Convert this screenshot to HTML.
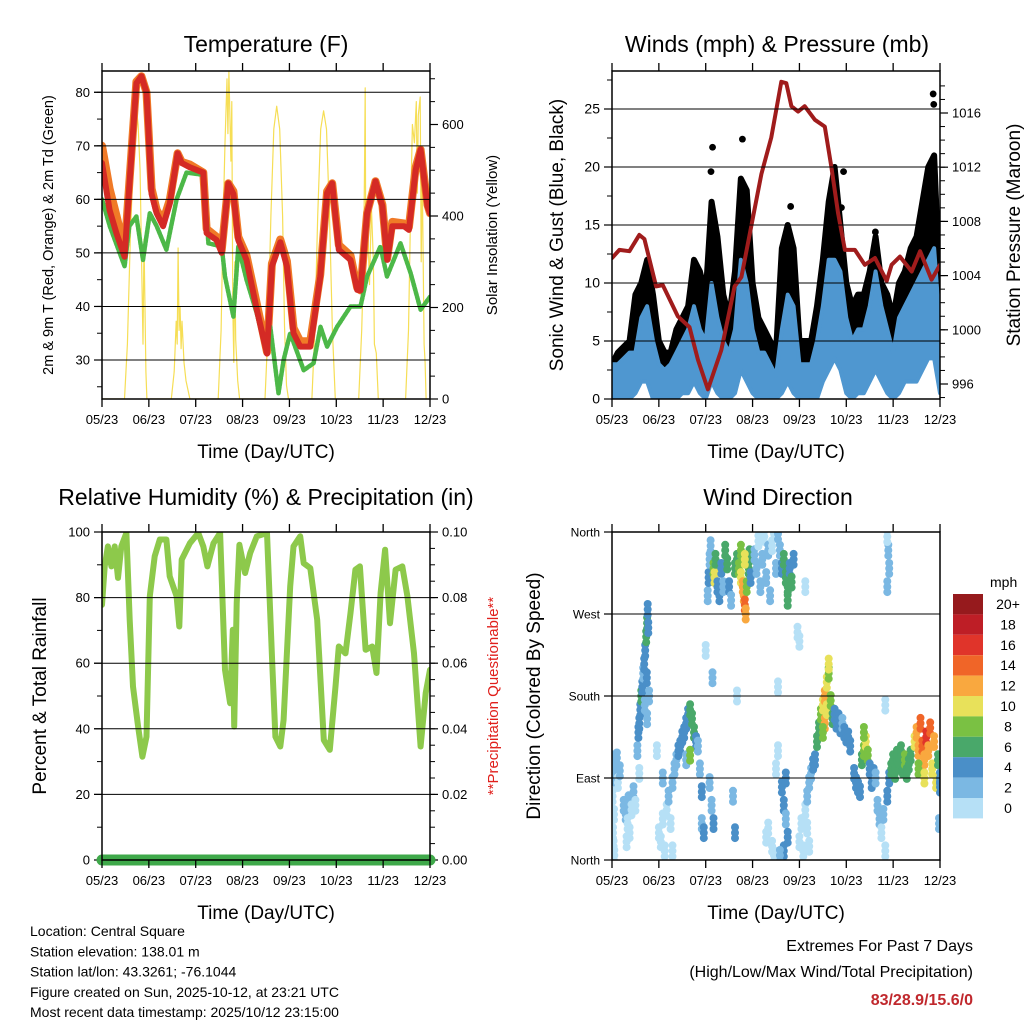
<!DOCTYPE html>
<html><head><meta charset="utf-8">
<style>
body{margin:0;background:#fff;}
svg{display:block;font-family:"Liberation Sans",sans-serif;}
</style></head>
<body>
<svg id="root" width="1024" height="1024" viewBox="0 0 1024 1024"></svg>
<script>
// ---------- DATA ----------
const TEMP_TIMES=[0,3.9,7.4,11.6,14,17.6,20.2,22.8,25.4,28,31.3,34.8,38.7,40.8,45,51.9,53.6,58.7,61.3,64.7,67.3,69.8,74,79.3,84.5,87,91.3,94.7,98.1,101.5,106.7,111.8,115.3,117.9,121.3,127.3,130.7,132.4,135.8,140.1,143.6,146.1,148.7,154.7,157.2,160.7,163.2,166.7,168];
const TEMP_RED=[66.8,58,53.7,49.3,62.4,81.7,83,80,61,57.4,55,59.3,68.6,66.8,66,65,53.7,52.4,50,63,61,52.4,48.7,39.4,31.2,47.5,52,47.5,35,32.5,32.5,45.6,61.2,63,50.6,48.7,43.1,43,57.4,63.4,58.7,48.7,55,55,54.3,65.5,69.3,58.7,57.4];
const TEMP_ORANGE=[70,62,57,50.5,63,82,83,80,62,58,56,60,68.6,67,66.5,65,54.5,53,50.5,63,61.5,53,49.5,40.5,31.5,48,52.5,48.5,36,33.5,33.5,46,61.5,63,51.5,49.5,43.5,43,57.5,63.4,59,49,55.8,55.5,54.8,66,69.3,59,57.4];
const DEW_TIMES=[0,4,11.6,14,17.6,21,24.5,28,33,38.2,43.3,51.9,54.5,61.3,63,67.3,69.8,74,79.3,84.5,86.2,90.4,93,96.4,103.3,108.4,111.9,115.3,120.4,127.3,132.4,135.8,142.6,146,152.9,158.1,163.2,168];
const DEW=[60,55,47.5,55,56.8,48.7,57.4,55,50.6,60,65,64.6,51.8,51.2,45.6,38.1,51.2,45,38.7,31.2,36.2,23.8,30,35,28.1,29.4,36.2,32.5,36.2,40,40,45.6,51.2,45.6,51.8,46.2,39.4,41.8];
const SOLAR_TIMES=[0,11.5,13,14.5,16,17.5,18.5,19.5,20.5,21,21.5,22.5,23,35.5,37,38,38.5,39,39.5,40,40.5,41,42,43,45,59.5,61,62,63,64,64.5,65,65.5,66,66.5,67,67.5,68,68.5,69.5,70.5,83.5,85,86.5,88,89.5,91,92.5,93.5,94.5,95.5,107.5,109,110.5,112,113.5,115,116.5,118,119.5,131.5,133,134,134.5,134.8,135.1,136,137,138,139,139.5,140.5,141.5,155.5,157,158,159,160,161,161.5,162,163,163.5,164,165,165.5,166,168];
const SOLAR=[0,0,120,350,520,640,600,500,250,120,350,60,0,0,60,170,120,330,150,200,110,170,80,40,0,0,150,380,560,700,580,716,620,520,650,200,80,300,130,40,0,0,150,400,590,640,590,400,160,30,0,0,150,400,590,630,590,400,150,0,0,150,300,520,680,300,400,250,420,300,120,100,0,0,150,400,600,560,650,450,620,660,300,500,120,80,0,0];
const PRESS_TIMES=[0,3.8,8.9,14,16.6,22.6,26,33.7,39.7,44,49.1,56,62.8,66.3,76.5,81.6,86.7,89.3,91.9,95.3,98.7,103.9,109,112.4,115.8,119.3,124.4,129.5,134.7,140.7,143.2,147.5,153.5,157.8,163.7,168];
const PRESS=[1005.3,1005.9,1005.8,1007,1006.7,1003.2,1003.3,1001,1000.2,997.8,995.6,998.5,1003.2,1003.9,1011.5,1014.2,1018.3,1018.2,1016.5,1016.1,1016.5,1015.5,1015,1012,1008.6,1005.9,1005.9,1004.8,1005.3,1003.6,1004.8,1005.4,1004.3,1005.8,1003.7,1004.8];
const WIND_TIMES=[0,3,6,9,12,15,18,21,24,27,30,33,36,39,42,45,48,51,54,57,60,63,66,69,72,75,78,81,84,87,90,93,96,99,102,105,108,111,114,117,120,123,126,129,132,135,138,141,144,147,150,153,156,159,162,165,168];
const WIND_LO=[0,0,0,0,0.5,1.5,1.5,0,0,0,0,0,0.5,0.5,1.5,0.5,0,1.5,0.5,0,0,0.5,2.5,1.5,0.5,0,0,0,0,0.5,1.5,0.5,0,0,0,0,1.5,2.5,3.5,2.5,0.5,0,0.5,0.5,1.5,2.5,1.5,0.5,0,0.5,1.5,1.5,1.5,2.5,3.5,3.5,0.5];
const WIND_HI=[3,3,3.5,4,4,7,8,5,3,2.5,3,4,5,6,8,6,5,10,7,5,4,6,12,10,6,4,4,3,2,6,9,8,3,3,3,5,8,12,12,11,7,5,6,6,8,11,8,6,4,7,8,9,10,11,12,13,6];
const GUST_LO=[1,2,2,2,3,5,5,3,1,2,2,3,3,4,5,5,4,6,5,3,2,4,7,7,4,2,2,1,1,4,6,5,1,2,2,3,5,8,10,7,4,4,4,4,5,6,5,4,2,4,6,6,7,8,10,10,4];
const GUST_HI=[3,4,4.5,5,9,10,12,9,5,4,4,6,7,8,12,11,9,17,14,9,7,11,19,18,10,7,6,5,4,13,15,13,5,5,5,8,12,17,20,15,10,8,9,9,11,14,10,9,7,10,11,13,14,17,20,21,9];
const GUST_OUT_T=[51.5,50.7,66.8,91.5,118.6,134.9,164.5,164.8,117.5];
const GUST_OUT_V=[21.7,19.6,22.4,16.6,19.6,14.4,26.3,25.4,16.5];
const RH_TIMES=[0,1.4,3,4.8,6.5,8.2,9.9,12.5,14.2,15.9,18.5,20.7,22.8,24.5,27,29.6,33,34.7,38.2,39.6,40.8,45,49.3,51.9,54,57.1,60.5,63,65.6,67,67.7,69,70.4,73.3,75.9,79.3,84.5,87.1,88.8,91.3,93,96.4,98.1,101.5,103.3,106.7,110.2,113.6,116.7,119.6,121.3,124.7,127.3,129.8,132.1,135,138.4,140.6,142.7,145,147.5,150.4,153.8,156.4,159.8,163.2,165.8,168];
const RH=[77.8,89.5,95.6,89.5,95.6,86,95.6,99.7,73.2,52.9,40.7,31.5,37.6,80.4,92.6,97.7,97.7,86.5,80.4,71.2,91.6,96.6,99.7,95.6,89.5,96.6,99.7,58,47.8,70.2,40.7,78.3,96.1,87.5,93.6,98.7,99.7,61,37.6,34.6,42.7,83.4,95.6,98.7,90.5,89,73.2,36.6,33.6,52.9,65.1,63,75.3,88.5,89.5,64.1,65.1,57,81.4,94.6,72.2,88.5,89.5,80.4,63,34.6,50.9,58];
const PRECIP_TIMES=[0,168];
const PRECIP=[0,0];
const DIR_T=[0,0.5,1,1.5,2,2.5,3,4,0.3,0.5,1,0.8,1.2, 6,7,8,9,7.5,8.5,10,11,12,
13,13.5,14,14.5,15,15.5,16,16.5,17,17.5,18,18.3,18.6,17.8,16.8,19,14,18,
24,25,26,27,28,29,30,31,32,33,34,35,36,23,26,31,
37,38,39,40,41,42,43,44,38,45,40,46,46,47,
49,49.5,50,50.5,50,51,52,51.5,48,
52,52.5,53,54,55,56,57,58,59,60,61,63,62,64,
63,64,65,66,67,67.5,68,68.5,69,70,70.5,71,66,68,
73,74,75,76,77,78,79,80,81,82,83,84,85,79,80,82,83,85,85,84,
86,87,88,89,90,91,92,90,93,87,88,89,90,88,86,89,
96,97,98,99,100,101,102,103,99,96,95,100,101,
104,105,106,107,108,109,110,111,109,108,110,111,112,113,
114,115,116,117,118,119,120,121,122,
124,125,126,127,128,129,130,131,129,132,133,134,135,136,137,138,140,139,
141,142,143,144,145,146,147,148,149,150,151,152,153,142,141.5,141,141,140,
155,156,157,158,159,160,161,162,163,164,165,166,167,168,168,167.5,157,160];
const DIR_V=[110,100,95,105,90,112,85,98,70,30,50,15,5, 60,50,40,30,20,65,55,75,60,
120,140,150,165,180,190,205,215,230,245,260,275,255,200,170,180,95,155,
30,20,45,10,55,70,40,85,100,110,120,125,135,120,90,10,
140,150,160,165,155,140,130,125,110,100,115,75,40,30,
290,310,330,345,85,60,40,200,230,
320,310,330,300,290,320,300,340,325,300,285,30,70,180,
320,330,320,310,300,290,280,270,300,320,335,310,340,330,
335,320,350,300,330,355,310,340,290,345,358,320,358,25,35,15,5,120,190,100,
340,320,330,310,300,320,305,285,330,80,60,45,25,10,5,90,
20,40,10,55,70,85,95,105,300,240,250,35,15,
110,130,145,160,170,180,195,205,150,140,165,215,175,155,
160,150,155,145,150,140,135,135,125,
95,85,80,75,110,120,130,115,140,100,85,95,90,60,45,30,10,50,
70,90,100,110,95,115,105,120,100,110,95,105,115,320,340,300,355,170,
130,140,120,150,125,110,135,120,145,100,130,85,110,90,80,40,100,90];
const DIR_S=[2,2,1,2,2,2,1,2,0,0,0,0,0, 2,2,1,0,0,2,1,2,1,
3,4,4,5,6,4,3,4,5,6,7,4,5,4,3,3,1,3,
0,0,1,0,1,2,1,2,2,3,4,4,4,1,2,0,
4,4,5,6,6,6,4,3,3,3,8,4,3,4,
3,4,3,2,3,3,4,2,0,
8,10,7,4,4,5,3,6,7,4,2,4,3,0,
6,7,9,11,12,13,14,12,8,6,7,5,8,10,
2,2,1,2,2,1,2,2,3,1,1,2,2,0,0,1,0,1,1,1,
3,4,6,6,7,5,6,6,4,4,5,3,4,4,3,4,
0,0,0,1,2,3,3,4,0,1,0,1,0,
5,6,7,8,10,12,11,9,12,8,10,10,8,6,
4,4,5,4,3,4,5,4,4,
4,4,4,5,6,8,10,9,8,5,4,4,3,2,2,1,0,2,
4,5,6,7,6,6,7,7,6,8,6,7,6,3,3,2,0,1,
11,13,12,14,15,13,16,12,14,10,12,10,6,5,4,2,9,11];
const SPEED_LABELS=["20+","18","16","14","12","10","8","6","4","2","0"];
const SPEED_COLORS=["#b6e0f6","#7bb8e3","#4a8fc8","#49a86a","#7ac143","#e8e15a","#f9a83f","#f06528","#e0342a","#be1e26","#961a1d"];
const TEMP_TICKS=[30,40,50,60,70,80];
const SOLAR_TICKS=[0,200,400,600];
const WIND_TICKS=[0,5,10,15,20,25];
const PRESS_TICKS=[996,1000,1004,1008,1012,1016];
const RH_TICKS=[0,20,40,60,80,100];
const PRECIP_TICKS=["0.00","0.02","0.04","0.06","0.08","0.10"];
const DIR_TICKS=["North","East","South","West","North"];
const DAY_LABELS=["05/23","06/23","07/23","08/23","09/23","10/23","11/23","12/23"];

// ---------- HELPERS ----------
const NS="http://www.w3.org/2000/svg";
const root=document.getElementById('root');
function mk(parent,tag,attrs,text){const e=document.createElementNS(NS,tag);for(const k in attrs)e.setAttribute(k,attrs[k]);if(text!==undefined)e.textContent=text;parent.appendChild(e);return e;}
const W=328,H=328;
function lin(d0,d1,r0,r1){return v=>r0+(v-d0)/(d1-d0)*(r1-r0);}
function poly(g,xs,ys,fx,fy,style){return mk(g,'polyline',Object.assign({points:xs.map((t,i)=>fx(t).toFixed(1)+','+fy(ys[i]).toFixed(1)).join(' '),fill:'none','stroke-linejoin':'round','stroke-linecap':'round'},style));}
let clipN=0;
function frame(x0,y0,name){
  const g=mk(root,'g',{});
  
  
  const cid='c'+(clipN++);
  const cp=mk(g,'clipPath',{id:cid});mk(cp,'rect',{x:x0,y:y0,width:W,height:H});
  const data=mk(g,'g',{'clip-path':'url(#'+cid+')'});
  
  
  return {g,data,fx:lin(0,168,x0,x0+W)};
}
function xAxis(g,x0,y0,name){
  const ax=mk(g,'g',{});
  
  
  DAY_LABELS.forEach((l,i)=>{const x=x0+i*W/7;
    mk(ax,'line',{x1:x,x2:x,y1:y0+H,y2:y0+H+8,stroke:'#000','stroke-width':1.3});
    mk(ax,'line',{x1:x,x2:x,y1:y0,y2:y0-8,stroke:'#000','stroke-width':1.3});
    const t=mk(ax,'text',{x:x,y:y0+H+25,'font-size':13,'text-anchor':'middle'},l);
    
    
  });
  const tt=mk(ax,'text',{x:x0+W/2,y:y0+H+59,'font-size':19,'text-anchor':'middle'},'Time (Day/UTC)');
  
  
}
function yAxis(g,x0,y0,ticks,labels,fy,side,minor,grid,fs){
  const ax=mk(g,'g',{});
  
  
  const xe=side==='left'?x0:x0+W, d=side==='left'?-1:1;
  ticks.forEach((v,i)=>{const y=fy(v);
    if(grid)mk(ax,'line',{x1:x0-8,x2:x0+W,y1:y,y2:y,stroke:'#000','stroke-width':1});
    mk(ax,'line',{x1:xe,x2:xe+d*8,y1:y,y2:y,stroke:'#000','stroke-width':1.2});
    const t=mk(ax,'text',{x:xe+d*12,y:y+4.5,'font-size':fs||13,'text-anchor':side==='left'?'end':'start'},labels[i]);
    
    
  });
  (minor||[]).forEach(v=>{const y=fy(v);mk(ax,'line',{x1:xe,x2:xe+d*5,y1:y,y2:y,stroke:'#000','stroke-width':1});});
}
function border(g,x0,y0){mk(g,'rect',{x:x0,y:y0,width:W,height:H,fill:'none',stroke:'#000','stroke-width':1.5});}
function title(x,y,txt,name){const t=mk(root,'text',{x:x,y:y,'font-size':23,'text-anchor':'middle'},txt);}
function vtitle(x,y,txt,fs,name,color){const t=mk(root,'text',{x:x,y:y,'font-size':fs,'text-anchor':'middle',fill:color||'#000',transform:'rotate(-90 '+x+' '+y+')'},txt);}
function range(a,b,s){const r=[];for(let v=a;v<=b+1e-9;v+=s)r.push(+v.toFixed(4));return r;}

// ---------- PANEL 1: TEMPERATURE ----------
(function(){
  const x0=102,y0=71;
  const P=frame(x0,y0,'temperature-panel');
  const fyT=lin(30,80,360,92.3), fyS=lin(0,600,399,124.5);
  yAxis(P.g,x0,y0,TEMP_TICKS,TEMP_TICKS.map(String),fyT,'left',range(25,80,5),true);
  yAxis(P.g,x0,y0,SOLAR_TICKS,SOLAR_TICKS.map(String),fyS,'right',range(50,700,50),false);
  const s=poly(P.data,SOLAR_TIMES,SOLAR,P.fx,fyS,{stroke:'#f6de55','stroke-width':1.2});
  
  
  const o=poly(P.data,TEMP_TIMES,TEMP_ORANGE,P.fx,fyT,{stroke:'#f07a27','stroke-width':8});
  
  
  const d=poly(P.data,DEW_TIMES,DEW,P.fx,fyT,{stroke:'#4cb848','stroke-width':4.5,'stroke-dasharray':'3 1.5'});
  
  
  const r=poly(P.data,TEMP_TIMES,TEMP_RED,P.fx,fyT,{stroke:'#d42a25','stroke-width':6});
  
  
  border(P.g,x0,y0);xAxis(P.g,x0,y0,'temperature');
  title(266,52,'Temperature (F)','temperature-title');
  vtitle(53,235,'2m & 9m T (Red, Orange) & 2m Td (Green)',14.5,'temperature-y-axis-title');
  vtitle(497,235,'Solar Insolation (Yellow)',15,'solar-y-axis-title');
})();

// ---------- PANEL 2: WINDS ----------
(function(){
  const x0=612,y0=71;
  const P=frame(x0,y0,'winds-panel');
  const fyW=lin(0,25,399,109), fyP=lin(996,1016,384,113);
  yAxis(P.g,x0,y0,WIND_TICKS,WIND_TICKS.map(String),fyW,'left',range(2.5,27.5,5),true,14);
  yAxis(P.g,x0,y0,PRESS_TICKS,PRESS_TICKS.map(String),fyP,'right',range(995,1018,1),false);
  const gpts=WIND_TIMES.map((t,i)=>P.fx(t)+','+fyW(GUST_HI[i])).concat(WIND_TIMES.map((t,i)=>P.fx(t)+','+fyW(GUST_LO[i])).reverse());
  const gb=mk(P.data,'polygon',{points:gpts.join(' '),fill:'#000',stroke:'#000','stroke-width':6,'stroke-linejoin':'round'});
  
  
  GUST_OUT_T.forEach((t,i)=>{const c=mk(P.data,'circle',{cx:P.fx(t),cy:fyW(GUST_OUT_V[i]),r:3.4,fill:'#000'});
    
    });
  const wpts=WIND_TIMES.map((t,i)=>P.fx(t)+','+fyW(WIND_HI[i])).concat(WIND_TIMES.map((t,i)=>P.fx(t)+','+fyW(WIND_LO[i])).reverse());
  const wb=mk(P.data,'polygon',{points:wpts.join(' '),fill:'#4f97d0',stroke:'#4f97d0','stroke-width':4,'stroke-linejoin':'round'});
  
  
  const p=poly(P.data,PRESS_TIMES,PRESS,P.fx,fyP,{stroke:'#a01c1c','stroke-width':4});
  
  
  border(P.g,x0,y0);xAxis(P.g,x0,y0,'winds');
  title(777,52,'Winds (mph) & Pressure (mb)','winds-title');
  vtitle(563,235,'Sonic Wind & Gust (Blue, Black)',19,'wind-y-axis-title');
  vtitle(1020,235,'Station Pressure (Maroon)',19,'pressure-y-axis-title');
})();

// ---------- PANEL 3: RH ----------
(function(){
  const x0=102,y0=532;
  const P=frame(x0,y0,'humidity-panel');
  const fyR=lin(0,100,860,532), fyPr=lin(0,0.1,860,532);
  yAxis(P.g,x0,y0,RH_TICKS,RH_TICKS.map(String),fyR,'left',range(10,90,20),true);
  yAxis(P.g,x0,y0,[0,0.02,0.04,0.06,0.08,0.1],PRECIP_TICKS,fyPr,'right',range(0.005,0.1,0.005),false);
  const r=poly(P.data,RH_TIMES,RH,P.fx,fyR,{stroke:'#8dc94b','stroke-width':6});
  
  
  const pr=poly(P.g,PRECIP_TIMES,PRECIP,P.fx,fyPr,{stroke:'#3fa94a','stroke-width':11});
  
  
  border(P.g,x0,y0);xAxis(P.g,x0,y0,'humidity');
  title(266,505,'Relative Humidity (%) & Precipitation (in)','humidity-title');
  vtitle(46,696,'Percent & Total Rainfall',19,'humidity-y-axis-title');
  vtitle(498,696,'**Precipitation Questionable**',15,'precip-questionable-label','#e0201c');
})();

// ---------- PANEL 4: WIND DIRECTION ----------
(function(){
  const x0=612,y0=532;
  const P=frame(x0,y0,'wind-direction-panel');
  const fyD=lin(0,360,860,532);
  yAxis(P.g,x0,y0,[0,90,180,270,360],DIR_TICKS,fyD,'left',[],true,12);
  const OFFS=[-6,6,0];
  DIR_T.forEach((t,i)=>{const k=Math.min(10,Math.floor(DIR_S[i]/2));
    OFFS.forEach(o=>{
      const c=mk(P.data,'circle',{cx:P.fx(t).toFixed(1),cy:fyD(DIR_V[i]+o).toFixed(1),r:4,fill:SPEED_COLORS[k]});
      
      
    });});
  border(P.g,x0,y0);xAxis(P.g,x0,y0,'wind-direction');
  title(778,505,'Wind Direction','wind-direction-title');
  vtitle(540,696,'Direction (Colored By Speed)',19,'direction-y-axis-title');
  const lg=mk(root,'g',{});
  
  
  const u=mk(lg,'text',{x:990,y:587,'font-size':14},'mph');
  
  
  SPEED_LABELS.forEach((l,i)=>{const y=594+i*20.4;
    const r=mk(lg,'rect',{x:953,y:y,width:30,height:20.4,fill:SPEED_COLORS[10-i]});
    
    
    const t=mk(lg,'text',{x:1008,y:y+15,'font-size':14,'text-anchor':'middle'},l);
    
    });
})();

// ---------- FOOTER ----------
const info=["Location: Central Square","Station elevation: 138.01 m","Station lat/lon: 43.3261; -76.1044","Figure created on Sun, 2025-10-12, at 23:21 UTC","Most recent data timestamp: 2025/10/12 23:15:00"];
info.forEach((l,i)=>{const t=mk(root,'text',{x:30,y:936+i*20.3,'font-size':14},l);
  
  });
const e1=mk(root,'text',{x:973,y:951,'font-size':16,'text-anchor':'end'},'Extremes For Past 7 Days');


const e2=mk(root,'text',{x:973,y:977,'font-size':16,'text-anchor':'end'},'(High/Low/Max Wind/Total Precipitation)');


const e3=mk(root,'text',{x:973,y:1005,'font-size':16,'font-weight':'bold','text-anchor':'end',fill:'#c0282d'},'83/28.9/15.6/0');


</script>
</body></html>
